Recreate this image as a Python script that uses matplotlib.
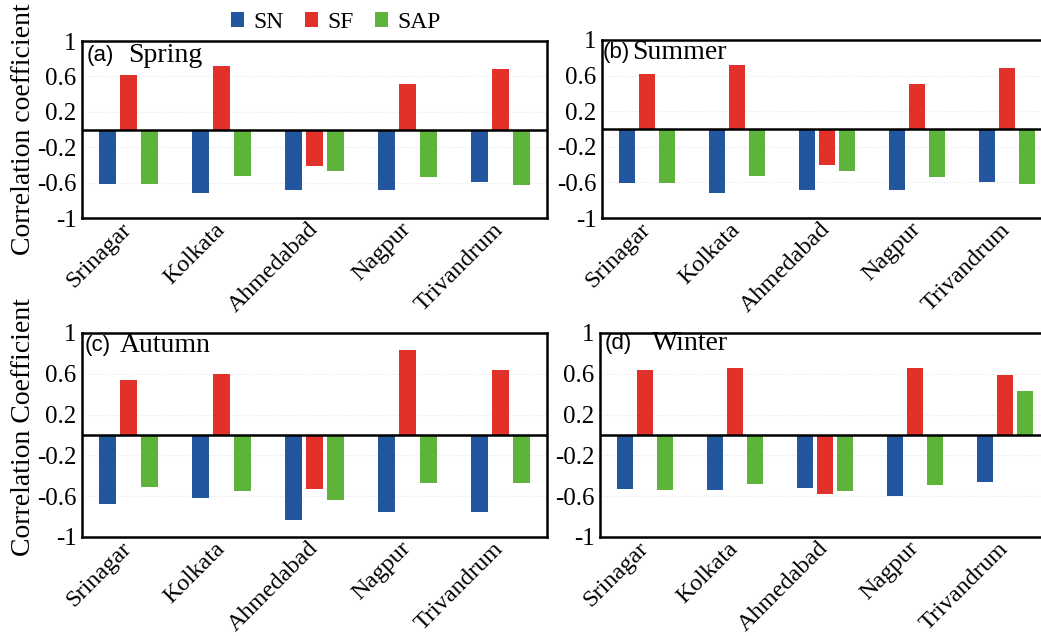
import matplotlib
matplotlib.use("Agg")
import matplotlib.pyplot as plt
from matplotlib.patches import Patch
import numpy as np

cities = ["Srinagar", "Kolkata", "Ahmedabad", "Nagpur", "Trivandrum"]

# correlation coefficients per season: SN, SF, SAP
spring_sn = [-0.61, -0.72, -0.68, -0.68, -0.59]
spring_sf = [0.62, 0.72, -0.41, 0.52, 0.68]
spring_sap = [-0.61, -0.53, -0.47, -0.54, -0.63]

summer_sn = [-0.61, -0.72, -0.68, -0.68, -0.59]
summer_sf = [0.62, 0.72, -0.41, 0.51, 0.68]
summer_sap = [-0.61, -0.53, -0.47, -0.54, -0.62]

autumn_sn = [-0.68, -0.62, -0.83, -0.76, -0.76]
autumn_sf = [0.54, 0.60, -0.53, 0.83, 0.64]
autumn_sap = [-0.51, -0.55, -0.64, -0.47, -0.47]

winter_sn = [-0.53, -0.54, -0.52, -0.60, -0.46]
winter_sf = [0.64, 0.66, -0.58, 0.66, 0.59]
winter_sap = [-0.54, -0.48, -0.55, -0.49, 0.43]

series_names = ["SN", "SF", "SAP"]
colors = ["#22579f", "#e2302b", "#5eb43b"]
yticks = [1, 0.6, 0.2, -0.2, -0.6, -1]
ytick_labels = ["1", "0.6", "0.2", "-0.2", "-0.6", "-1"]

serif = "Liberation Serif"
sans = "Liberation Sans"

fig = plt.figure(figsize=(10.41, 6.36), dpi=100)

panels = [
    ([0.0788, 0.6572, 0.4467, 0.2783], (spring_sn, spring_sf, spring_sap), "(a)", "Spring", 0.009, 0.099, 0.92, True),
    ([0.5783, 0.6572, 0.4323, 0.2800], (summer_sn, summer_sf, summer_sap), "(b)", "Summer", 0.002, 0.068, 0.927, False),
    ([0.0788, 0.1557, 0.4467, 0.3208], (autumn_sn, autumn_sf, autumn_sap), "(c)", "Autumn", 0.006, 0.082, 0.94, True),
    ([0.5764, 0.1557, 0.4323, 0.3208], (winter_sn, winter_sf, winter_sap), "(d)", "Winter", 0.011, 0.116, 0.95, False),
]

x = np.arange(len(cities))
offset = 0.225
width = 0.18

for rect, data, tag, season, tx, sx, ty, left_col in panels:
    ax = fig.add_axes(rect)
    for i, vals in enumerate(data):
        ax.bar(x + (i - 1) * offset, vals, width=width, color=colors[i], zorder=2)
    ax.axhline(0, color="black", lw=1.8, zorder=3)
    ax.set_xlim(-0.5, 4.5)
    ax.set_ylim(-1, 1)
    ax.set_yticks(yticks)
    ax.set_yticklabels(ytick_labels, fontfamily=serif, fontsize=18)
    ax.set_xticks(x)
    ax.set_xticklabels(cities, fontfamily=serif, fontsize=17.5, rotation=45,
                       ha="right", va="center", rotation_mode="anchor")
    ax.tick_params(axis="both", length=0)
    ax.tick_params(axis="y", pad=4)
    ax.tick_params(axis="x", pad=6)
    ax.grid(axis="y", color="#e6e6e6", linestyle=":", lw=0.8, zorder=0)
    for s in ax.spines.values():
        s.set_linewidth(1.8)
    if not left_col:
        ax.spines["right"].set_visible(False)
    ax.text(tx, ty, tag, transform=ax.transAxes, fontfamily=sans, fontsize=16,
            ha="left", va="center")
    ax.text(sx, ty, season, transform=ax.transAxes, fontfamily=serif, fontsize=20,
            ha="left", va="center")

fig.text(0.023, 0.797, "Correlation coefficient", rotation=90, ha="center", va="center",
         fontfamily=serif, fontsize=20)
fig.text(0.023, 0.329, "Correlation Coefficient", rotation=90, ha="center", va="center",
         fontfamily=serif, fontsize=20)

handles = [Patch(facecolor=c, label=n) for c, n in zip(colors, series_names)]
fig.legend(handles=handles, loc="center", bbox_to_anchor=(0.323, 0.965), ncol=3,
           frameon=False, handlelength=0.55, handleheight=0.6, handletextpad=0.4,
           columnspacing=0.9, prop={"family": serif, "size": 17})

fig.savefig("out.png", dpi=100)
